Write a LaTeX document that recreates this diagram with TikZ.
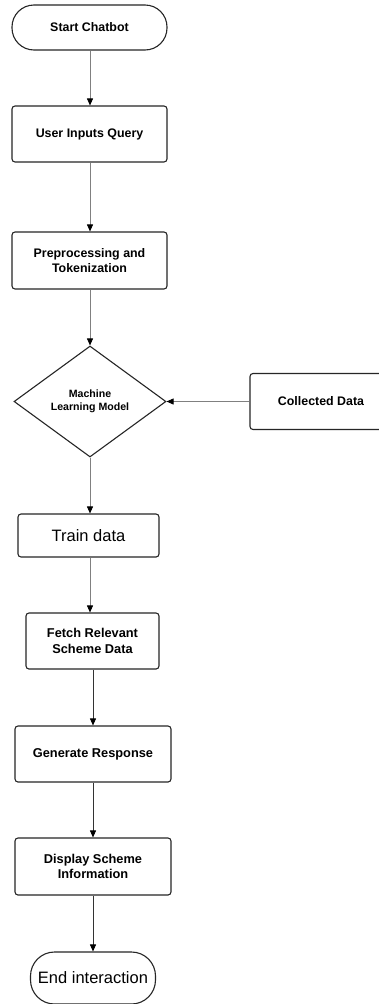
\documentclass[tikz,border=0pt]{standalone}
\usepackage{fontspec}
\setmainfont{Liberation Sans}
\usetikzlibrary{shapes.geometric,arrows.meta}
\begin{document}
\begin{tikzpicture}[x=1pt,y=-1pt,
  box/.style={draw=black!85, line width=1.1pt, rounded corners=3pt, align=center,
    inner sep=0pt, font=\bfseries\fontsize{12.4}{15}\selectfont},
  bigtext/.style={font=\fontsize{16.5}{19}\selectfont},
  term/.style={box, rounded corners=#1},
  conn/.style={draw=black!50, line width=0.8pt, -{Triangle[width=6pt,length=7pt,black]}},
  conndark/.style={draw=black!80, line width=0.8pt, -{Triangle[width=6pt,length=7pt,black]}}
]
\useasboundingbox (0,0) rectangle (379,1004);
\fill[white] (0,0) rectangle (379,1004);

\node[term=22pt, minimum width=155pt, minimum height=45pt] (start) at (89.5,27.5) {Start Chatbot};
\node[box, minimum width=155pt, minimum height=56pt] (user) at (89.5,134) {User Inputs Query};
\node[box, minimum width=155pt, minimum height=57pt] (prep) at (89.5,260.5) {Preprocessing and\\Tokenization};
\node[draw=black!85, line width=1.1pt, diamond, minimum width=152pt, minimum height=111pt, inner sep=0pt,
  align=center, font=\bfseries\fontsize{10.6}{13}\selectfont] (dia) at (90,401.5) {Machine\\Learning Model};
\node[box, minimum width=142pt, minimum height=56pt] (coll) at (321,401.5) {Collected Data};
\node[box, bigtext, minimum width=141pt, minimum height=43pt] (train) at (88.5,535.5) {Train data};
\node[box, minimum width=133pt, minimum height=56pt, font=\bfseries\fontsize{12.8}{16}\selectfont] (fetch) at (92.5,641) {Fetch Relevant\\Scheme Data};
\node[box, minimum width=156pt, minimum height=56pt, font=\bfseries\fontsize{12.8}{15}\selectfont] (gen) at (93,754) {Generate Response};
\node[box, minimum width=156pt, minimum height=57pt, font=\bfseries\fontsize{12.8}{15}\selectfont] (disp) at (93,866.5) {Display Scheme\\Information};
\node[term=24pt, bigtext, minimum width=125pt, minimum height=52pt] (end) at (93,978) {End interaction};

\draw[conn] (start.south -| dia.north) -- (user.north -| dia.north);
\draw[conn] (user.south -| dia.north) -- (prep.north -| dia.north);
\draw[conn] (prep.south -| dia.north) -- (dia.north);
\draw[conn] (coll.west) -- (dia.east);
\draw[conn] (dia.south) -- (train.north -| dia.south);
\draw[conn] (train.south -| dia.south) -- (fetch.north -| dia.south);
\draw[conndark] (fetch.south -| gen.north) -- (gen.north);
\draw[conndark] (gen.south) -- (disp.north);
\draw[conndark] (disp.south) -- (end.north);
\end{tikzpicture}
\end{document}
